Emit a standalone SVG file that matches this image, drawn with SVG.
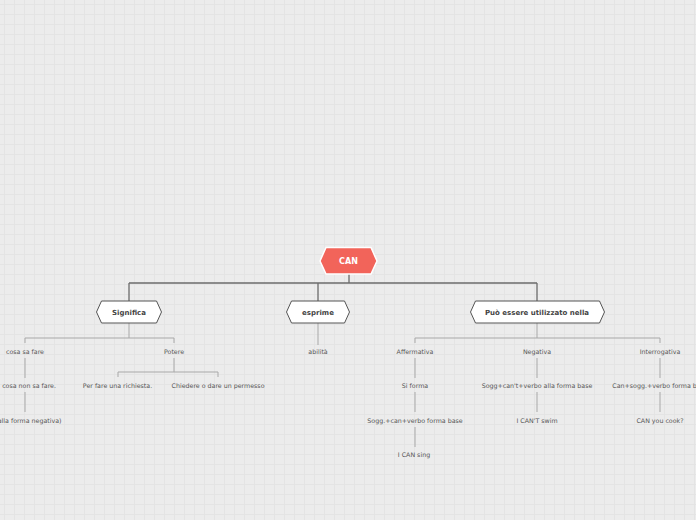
<svg xmlns="http://www.w3.org/2000/svg" width="696" height="520" viewBox="0 0 696 520">
<defs>
<pattern id="grid" x="0" y="0" width="10" height="10" patternUnits="userSpaceOnUse">
<rect width="10" height="10" fill="#ececec"/>
<path d="M4.5 0V10M0 4.5H10" stroke="#e4e4e4" stroke-width="1" fill="none"/>
</pattern>
</defs>
<style>
.main{fill:none;stroke:#6b6b6b;stroke-width:1.3}
.sub{fill:none;stroke:#a8a8a8;stroke-width:1}
.hex{fill:#ffffff;stroke:#555555;stroke-width:1}
.root{fill:#f2645a;stroke:#ffffff;stroke-width:1.5}
.lbl{font-family:"DejaVu Sans",Verdana,sans-serif;font-size:7px;font-weight:bold;fill:#444444;text-anchor:middle}
.rlbl{font-family:"DejaVu Sans",Verdana,sans-serif;font-size:8px;font-weight:bold;fill:#ffffff;text-anchor:middle}
.t{font-family:"DejaVu Sans",Verdana,sans-serif;font-size:6.3px;fill:#555555;text-anchor:middle}
</style>
<rect width="696" height="520" fill="url(#grid)"/>
<g id="connectors">
<path class="main" d="M349 274V283M129 283H537M129 283V301M318 283V301M537 283V301"/>
<path class="sub" d="M129 323V338M25 343V338H174V343"/>
<path class="sub" d="M25 358V378M25 392V412"/>
<path class="sub" d="M174 358V372M118 377V372H218V377"/>
<path class="sub" d="M318 323V345"/>
<path class="sub" d="M537 323V338M415 343V338H660V343"/>
<path class="sub" d="M415 358V378M415 392V412M415 427V447"/>
<path class="sub" d="M537 358V378M537 392V412"/>
<path class="sub" d="M660 358V378M660 392V412"/>
</g>
<g id="n-can"><polygon class="root" points="320,261 326,247.5 371,247.5 377,261 371,274 326,274"/><text class="rlbl" x="348.5" y="264">CAN</text></g>
<g id="n-significa"><polygon class="hex" points="96.5,312 101.5,301 156.5,301 161.5,312 156.5,323 101.5,323"/><text class="lbl" x="129" y="314.5">Significa</text></g>
<g id="n-esprime"><polygon class="hex" points="286.5,312 291.5,301 344.5,301 349.5,312 344.5,323 291.5,323"/><text class="lbl" x="318" y="314.5">esprime</text></g>
<g id="n-puo"><polygon class="hex" points="470.5,312 475.5,301 599.5,301 604.5,312 599.5,323 475.5,323"/><text class="lbl" x="537" y="314.5">Può essere utilizzato nella</text></g>
<g id="n-cosasafare"><text class="t" x="25" y="353.5">cosa sa fare</text></g>
<g id="n-cosanon"><text class="t" x="56" y="387.5" style="text-anchor:end">cosa non sa fare.</text></g>
<g id="n-negativa-forma"><text class="t" x="61.5" y="422.5" style="text-anchor:end">(alla forma negativa)</text></g>
<g id="n-potere"><text class="t" x="174" y="353.5">Potere</text></g>
<g id="n-richiesta"><text class="t" x="117.5" y="387.5">Per fare una richiesta.</text></g>
<g id="n-permesso"><text class="t" x="218" y="387.5">Chiedere o dare un permesso</text></g>
<g id="n-abilita"><text class="t" x="318" y="353.5">abilità</text></g>
<g id="n-affermativa"><text class="t" x="415" y="353.5">Affermativa</text></g>
<g id="n-siforma"><text class="t" x="415" y="387.5">Si forma</text></g>
<g id="n-sogg-can"><text class="t" x="415" y="422.5">Sogg.+can+verbo forma base</text></g>
<g id="n-icansing"><text class="t" x="414" y="456.5">I CAN sing</text></g>
<g id="n-negativa"><text class="t" x="537" y="353.5">Negativa</text></g>
<g id="n-sogg-cant"><text class="t" x="537" y="387.5">Sogg+can't+verbo alla forma base</text></g>
<g id="n-icantswim"><text class="t" x="537" y="422.5">I CAN'T swim</text></g>
<g id="n-interrogativa"><text class="t" x="660" y="353.5">Interrogativa</text></g>
<g id="n-can-sogg"><text class="t" x="660" y="387.5">Can+sogg.+verbo forma base</text></g>
<g id="n-canyoucook"><text class="t" x="660" y="422.5">CAN you cook?</text></g>
</svg>
